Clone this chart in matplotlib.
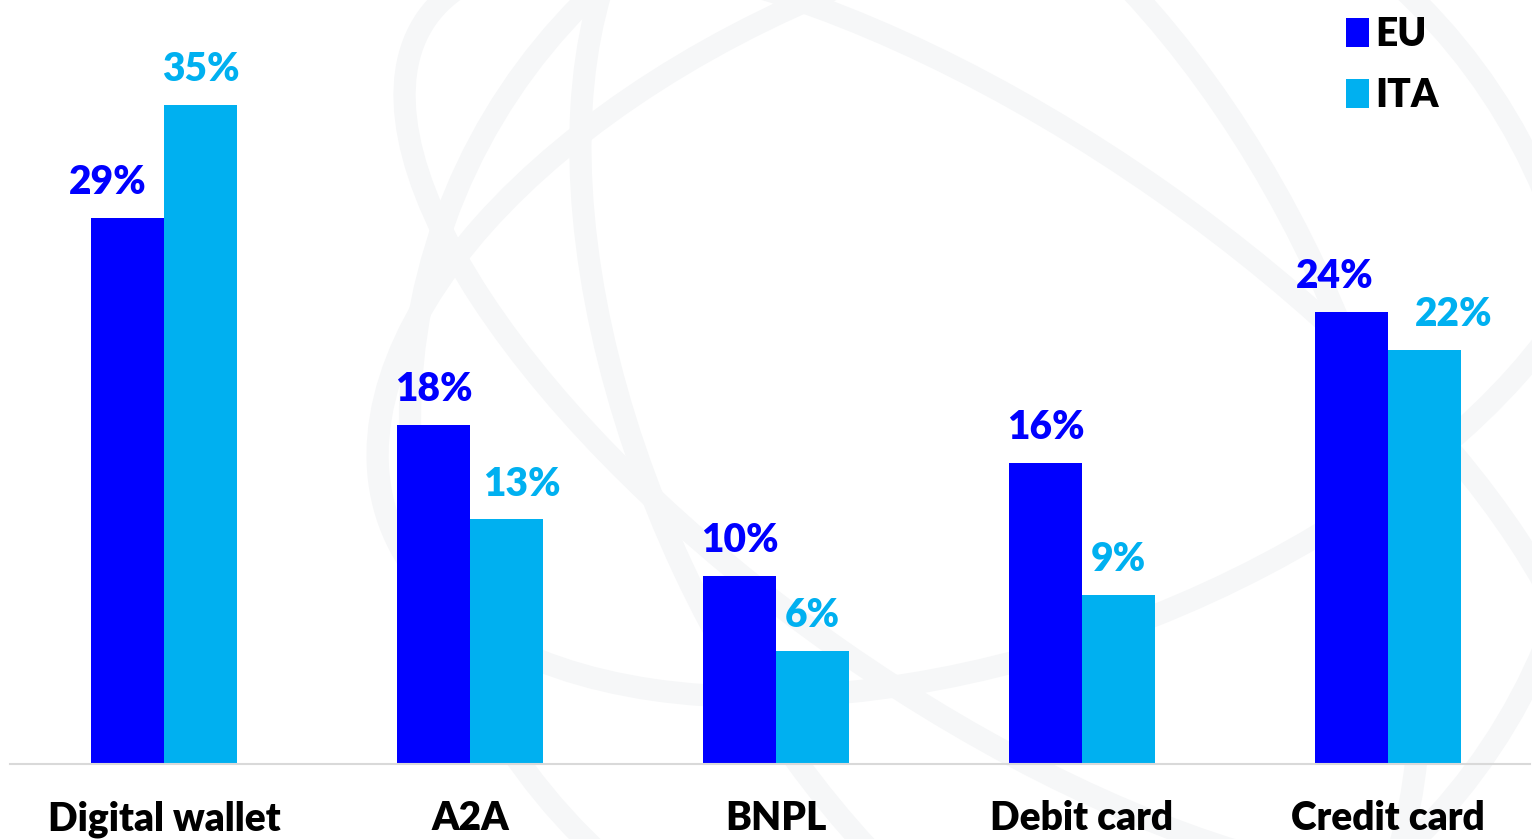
import matplotlib.pyplot as plt
from matplotlib.patches import Ellipse
import numpy as np

categories = ["Digital wallet", "A2A", "BNPL", "Debit card", "Credit card"]
eu = [29, 18, 10, 16, 24]
ita = [35, 13, 6, 9, 22]
series = ["EU", "ITA"]
colors = ["#0000FF", "#00B0F0"]

# small horizontal nudges (in points) for labels, like the original
eu_nudge = [-14, 0, 0, 0, -12]
ita_nudge = [0, 11, 0, 0, 21]

plt.rcParams['font.family'] = ['Lato', 'DejaVu Sans']

fig = plt.figure(figsize=(15.32, 8.39), dpi=100)

# faint globe watermark in the background
bg = fig.add_axes([0, 0, 1, 1], zorder=0)
bg.set_xlim(0, 1532)
bg.set_ylim(839, 0)
bg.axis("off")
for cx, cy, w, h, ang in [(1000, 420, 1180, 1180, 0),
                          (1000, 420, 700, 1300, -25),
                          (1000, 420, 1400, 560, 35),
                          (1000, 300, 1300, 700, -20)]:
    bg.add_patch(Ellipse((cx, cy), w, h, angle=ang, fill=False,
                         ec="#F6F7F8", lw=16))

ax = fig.add_axes([10 / 1532, 1 - 764 / 839, 1520 / 1532, 764 / 839], zorder=1)
ax.patch.set_alpha(0)

x = np.arange(len(categories))
w = 73 / 306
b1 = ax.bar(x - w / 2, eu, w, color=colors[0], label=series[0])
b2 = ax.bar(x + w / 2, ita, w, color=colors[1], label=series[1])

for bars, vals, nud, c in [(b1, eu, eu_nudge, colors[0]), (b2, ita, ita_nudge, colors[1])]:
    for r, v, n in zip(bars, vals, nud):
        ax.annotate(f"{v}%", (r.get_x() + r.get_width() / 2, v),
                    xytext=(n, 12), textcoords="offset points",
                    ha="center", va="bottom", fontsize=28,
                    fontweight="heavy", color=c)

ax.set_xlim(-0.503, 4.464)
ax.set_ylim(0, 40.57)
ax.set_yticks([])
ax.set_xticks(x)
ax.set_xticklabels(categories, fontsize=28, fontweight="heavy")
ax.tick_params(axis="x", length=0, pad=26)
for s in ["top", "left", "right"]:
    ax.spines[s].set_visible(False)
ax.spines["bottom"].set_color("#D9D9D9")
ax.spines["bottom"].set_linewidth(1.5)

leg = ax.legend(loc="upper right", bbox_to_anchor=(0.963, 1.025), frameon=False,
                prop={"size": 28, "weight": "heavy"}, handlelength=0.6,
                handleheight=0.8, handletextpad=0.15, labelspacing=0.62)

fig.savefig("out.png", dpi=100)
